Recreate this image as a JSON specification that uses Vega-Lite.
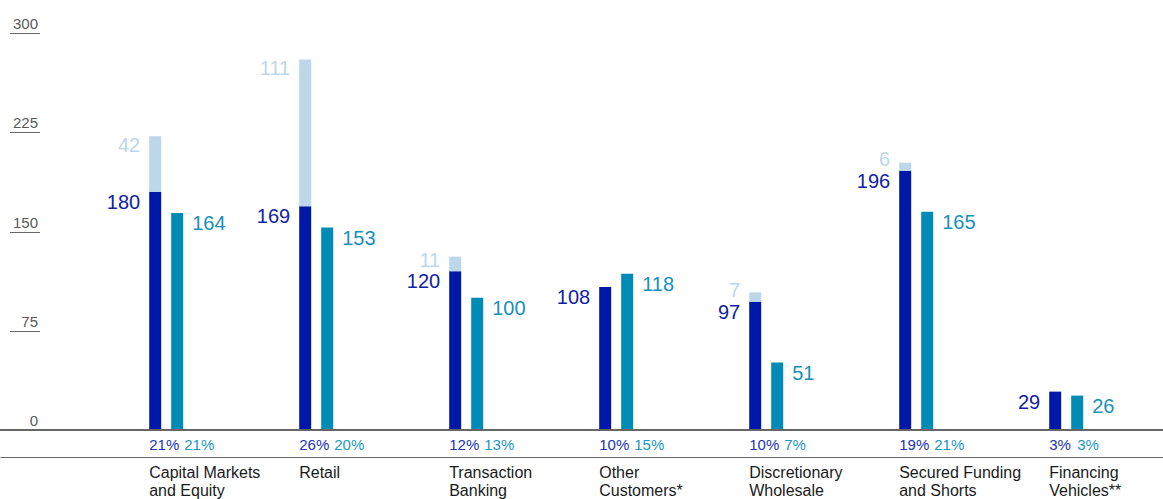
{
  "$schema": "https://vega.github.io/schema/vega-lite/v6.json",
  "width": 1163,
  "height": 397,
  "autosize": {"type": "none"},
  "padding": {"left": 0, "top": 33, "right": 0, "bottom": 69},
  "background": "white",
  "config": {"view": {"stroke": null}, "font": "Liberation Sans", "text": {"font": "Liberation Sans"}},
  "data": {
    "values": [
      {"cat": "Capital Markets|and Equity", "dark": 180, "light": 42, "teal": 164, "pd": "21%", "pt": "21%"},
      {"cat": "Retail", "dark": 169, "light": 111, "teal": 153, "pd": "26%", "pt": "20%"},
      {"cat": "Transaction|Banking", "dark": 120, "light": 11, "teal": 100, "pd": "12%", "pt": "13%"},
      {"cat": "Other|Customers*", "dark": 108, "light": null, "teal": 118, "pd": "10%", "pt": "15%"},
      {"cat": "Discretionary|Wholesale", "dark": 97, "light": 7, "teal": 51, "pd": "10%", "pt": "7%"},
      {"cat": "Secured Funding|and Shorts", "dark": 196, "light": 6, "teal": 165, "pd": "19%", "pt": "21%"},
      {"cat": "Financing|Vehicles**", "dark": 29, "light": null, "teal": 26, "pd": "3%", "pt": "3%"}
    ]
  },
  "layer": [
    {
      "transform": [{"fold": ["dark", "teal"], "as": ["series", "v"]}],
      "mark": {"type": "bar"},
      "encoding": {
        "x": {
          "field": "cat", "type": "nominal", "sort": null,
          "scale": {"paddingInner": 0.77333, "paddingOuter": 0.76333, "align": 0.6515},
          "axis": {
            "orient": "bottom", "offset": 27, "ticks": false,
            "domainColor": "#666666", "domainWidth": 1, "labelAlign": "left", "labelOffset": -17,
            "labelBaseline": "alphabetic", "labelPadding": 20, "labelFontSize": 16,
            "labelFont": "Liberation Sans", "labelColor": "#1a1a1a", "labelLineHeight": 18.5,
            "labelExpr": "split(datum.label, '|')", "title": null, "labelAngle": 0
          }
        },
        "xOffset": {"field": "series", "type": "nominal", "scale": {"paddingInner": 0.45455, "paddingOuter": 0}},
        "y": {
          "field": "v", "type": "quantitative",
          "scale": {"domain": [0, 300], "nice": false},
          "axis": {
            "values": [0, 75, 150, 225, 300], "orient": "left", "offset": -39.5,
            "domain": false, "grid": false, "tickSize": 30, "tickColor": "#666666", "tickWidth": 1,
            "labelAlign": "right", "labelBaseline": "alphabetic", "labelOffset": -4.5,
            "labelPadding": -28, "labelFontSize": 15, "labelFont": "Liberation Sans",
            "labelColor": "#595959", "title": null
          }
        },
        "color": {"field": "series", "type": "nominal", "scale": {"domain": ["dark", "teal"], "range": ["#0018a8", "#008bb6"]}, "legend": null}
      }
    },
    {
      "transform": [
        {"filter": "datum.light > 0"},
        {"calculate": "datum.dark + datum.light", "as": "top"}
      ],
      "mark": {"type": "bar", "color": "#bcd7ea"},
      "encoding": {
        "x": {"field": "cat", "type": "nominal", "sort": null},
        "xOffset": {"datum": "dark"},
        "y": {"field": "dark", "type": "quantitative", "title": null},
        "y2": {"field": "top"}
      }
    },
    {
      "mark": {"type": "rule", "color": "#666666", "strokeWidth": 1},
      "encoding": {"y": {"datum": 0}}
    },
    {
      "mark": {"type": "text", "align": "right", "baseline": "top", "dx": -9, "dy": 1, "fontSize": 20, "color": "#0f22a3"},
      "encoding": {
        "x": {"field": "cat", "type": "nominal", "sort": null, "bandPosition": 0},
        "y": {"field": "dark", "type": "quantitative", "title": null},
        "text": {"field": "dark"}
      }
    },
    {
      "transform": [
        {"filter": "datum.light > 0"},
        {"calculate": "max(datum.dark + datum.light, datum.dark + 15.5)", "as": "ly"}
      ],
      "mark": {"type": "text", "align": "right", "baseline": "top", "dx": -9, "dy": 0, "fontSize": 20, "color": "#bcd7ea"},
      "encoding": {
        "x": {"field": "cat", "type": "nominal", "sort": null, "bandPosition": 0},
        "y": {"field": "ly", "type": "quantitative", "title": null},
        "text": {"field": "light"}
      }
    },
    {
      "mark": {"type": "text", "align": "left", "baseline": "top", "dx": 43, "dy": 1, "fontSize": 20, "color": "#1690bb"},
      "encoding": {
        "x": {"field": "cat", "type": "nominal", "sort": null, "bandPosition": 0},
        "y": {"field": "teal", "type": "quantitative", "title": null},
        "text": {"field": "teal"}
      }
    },
    {
      "mark": {"type": "text", "align": "left", "baseline": "alphabetic", "dx": 0, "dy": 20, "fontSize": 15, "color": "#2033b3"},
      "encoding": {
        "x": {"field": "cat", "type": "nominal", "sort": null, "bandPosition": 0},
        "y": {"datum": 0},
        "text": {"field": "pd"}
      }
    },
    {
      "transform": [{"filter": "length(datum.pd) == 3"}],
      "mark": {"type": "text", "align": "left", "baseline": "alphabetic", "dx": 35, "dy": 20, "fontSize": 15, "color": "#1b96c2"},
      "encoding": {
        "x": {"field": "cat", "type": "nominal", "sort": null, "bandPosition": 0},
        "y": {"datum": 0},
        "text": {"field": "pt"}
      }
    },
    {
      "transform": [{"filter": "length(datum.pd) == 2"}],
      "mark": {"type": "text", "align": "left", "baseline": "alphabetic", "dx": 28, "dy": 20, "fontSize": 15, "color": "#1b96c2"},
      "encoding": {
        "x": {"field": "cat", "type": "nominal", "sort": null, "bandPosition": 0},
        "y": {"datum": 0},
        "text": {"field": "pt"}
      }
    }
  ]
}
